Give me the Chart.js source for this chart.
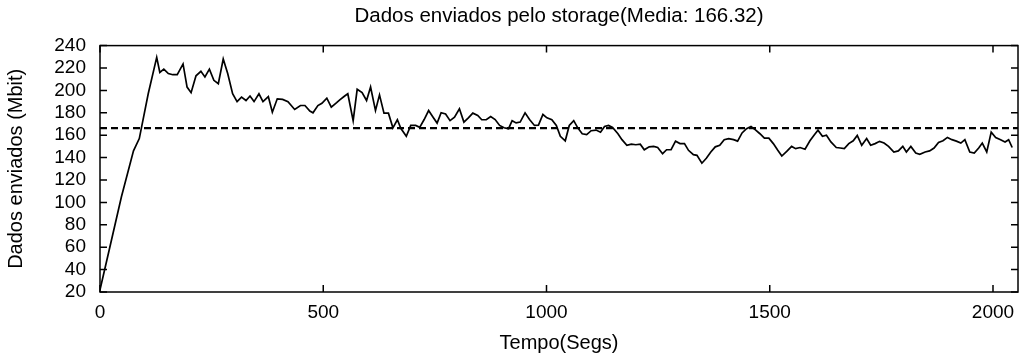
<!DOCTYPE html>
<html lang="pt">
<head>
    <meta charset="UTF-8">
    <title>Dados enviados pelo storage</title>
    <script src="https://cdn.jsdelivr.net/npm/chart.js@4.4.0/dist/chart.umd.min.js"></script>
    <style>
        body { margin: 0; background: #fff; }
    </style>
</head>
<body>
    <canvas id="chart" width="1022" height="360"></canvas>

    <script>
        // tempo (segundos) e dados enviados (Mbit)
        const tempo = [0, 22, 48, 75, 88, 108, 127, 134, 143, 153, 163, 173, 186, 195, 204, 215, 226, 235, 245, 255,
            265, 276, 286, 297, 307, 317, 327, 336, 345, 356, 365, 377, 386, 397, 409, 421, 436, 449, 459, 470,
            477, 488, 497, 508, 518, 530, 537, 548, 555, 567, 576, 587, 597, 606, 617, 626, 636, 646, 656, 666,
            674, 686, 696, 707, 716, 726, 736, 746, 755, 764, 774, 784, 794, 805, 815, 825, 835, 846, 855, 865,
            875, 885, 895, 905, 915, 923, 932, 941, 952, 962, 973, 982, 992, 1001, 1012, 1022, 1031, 1042, 1051, 1061,
            1070, 1080, 1090, 1100, 1111, 1121, 1130, 1139, 1148, 1160, 1169, 1180, 1190, 1200, 1210, 1219, 1230, 1240, 1249, 1260,
            1269, 1279, 1289, 1299, 1309, 1318, 1329, 1337, 1348, 1358, 1368, 1378, 1388, 1398, 1408, 1419, 1428, 1438, 1448, 1458,
            1468, 1478, 1488, 1498, 1508, 1518, 1527, 1538, 1549, 1558, 1568, 1579, 1590, 1600, 1608, 1618, 1627, 1637, 1649, 1658,
            1667, 1677, 1687, 1696, 1706, 1717, 1726, 1736, 1746, 1756, 1766, 1778, 1788, 1798, 1806, 1816, 1827, 1836, 1848, 1858,
            1868, 1878, 1888, 1898, 1908, 1918, 1928, 1937, 1948, 1958, 1968, 1976, 1986, 1996, 2006, 2017, 2027, 2035, 2043];
        const dados = [22, 60, 105, 146, 157, 197, 229.5, 216, 219, 215, 214, 214, 223.6, 203, 198, 213, 217, 212, 219, 209,
            206, 228, 215, 197, 190, 194, 191, 195, 190, 197, 190, 194.5, 180.5, 192.5, 192, 190, 183, 186.5, 186.5, 181.5,
            180, 186.5, 188.5, 193, 185, 189, 191.5, 195, 197, 173, 201, 198, 191, 203, 182, 196, 179.7, 179.7, 166.6, 173.8,
            166, 159, 168.7, 168.7, 167, 174, 182, 176, 170.8, 180, 179, 173, 176, 183.6, 171.7, 175.5, 179.7, 177.6, 173.8, 173.8,
            176.7, 174, 168.7, 166.6, 165.8, 173, 171, 171.7, 180, 174, 168.7, 169, 178.5, 175.5, 173.8, 168.7, 159, 155, 168.7, 173,
            166.6, 161.3, 160.5, 164, 164.6, 162.7, 167.8, 168.7, 167, 161.3, 156, 151, 152, 151.5, 152, 147, 149.6, 150, 149, 143.5,
            147, 147, 154.7, 152.5, 152.5, 146.5, 142.6, 142, 135, 139.4, 145, 149.6, 151, 156, 157, 156, 154.7, 162, 165.8, 167.8,
            164.8, 161.3, 157.4, 157.4, 152.5, 146.5, 141.4, 145.5, 150, 148, 149, 147.5, 155, 160.5, 164.5, 159, 160, 154, 149, 148.6,
            148, 152.5, 155, 159.8, 151, 157, 151, 152.5, 154.5, 153, 150, 145, 146, 150, 145, 150, 144, 143, 145, 146,
            148.5, 153.5, 155, 158, 156, 154.7, 153, 156, 145, 144, 148.6, 153, 145, 162.7, 158, 156, 154, 156, 149];

        const media = 166.32;
        const xMax = 2056;
        const xTicks = [0, 500, 1000, 1500, 2000];
        const yTicks = [20, 40, 60, 80, 100, 120, 140, 160, 180, 200, 220, 240];

        const fonte = 'Liberation Sans, Arial, Helvetica, sans-serif';

        // caixa do grafico com marcas de escala para dentro (estilo gnuplot)
        const moldura = {
            id: 'moldura',
            afterDatasetsDraw(chart) {
                const ctx = chart.ctx;
                const a = chart.chartArea;
                const sx = chart.scales.x;
                const sy = chart.scales.y;
                const tam = 7;
                ctx.save();
                ctx.strokeStyle = '#000';
                ctx.lineWidth = 1.5;
                ctx.beginPath();
                xTicks.forEach(v => {
                    const px = sx.getPixelForValue(v);
                    ctx.moveTo(px, a.bottom);
                    ctx.lineTo(px, a.bottom - tam);
                    ctx.moveTo(px, a.top);
                    ctx.lineTo(px, a.top + tam);
                });
                yTicks.forEach(v => {
                    const py = sy.getPixelForValue(v);
                    ctx.moveTo(a.left, py);
                    ctx.lineTo(a.left + tam, py);
                    ctx.moveTo(a.right, py);
                    ctx.lineTo(a.right - tam, py);
                });
                ctx.stroke();
                ctx.strokeRect(a.left, a.top, a.right - a.left, a.bottom - a.top);
                ctx.restore();
            }
        };

        const pontos = tempo.map((t, i) => ({ x: t, y: dados[i] }));

        const ctx = document.getElementById('chart').getContext('2d');
        const myChart = new Chart(ctx, {
            type: 'line',
            data: {
                datasets: [{
                    label: 'Dados enviados',
                    data: pontos,
                    borderColor: '#000',
                    borderWidth: 1.7,
                    pointRadius: 0,
                    tension: 0,
                    fill: false
                },
                {
                    label: 'Media',
                    data: [{ x: 0, y: media }, { x: xMax, y: media }],
                    borderColor: '#000',
                    borderWidth: 2.2,
                    borderDash: [7, 4],
                    pointRadius: 0,
                    fill: false
                }]
            },
            options: {
                responsive: false,
                animation: false,
                layout: { padding: { left: 0, right: 4, top: 0, bottom: 0 } },
                plugins: {
                    legend: { display: false },
                    tooltip: { enabled: false },
                    title: {
                        display: true,
                        text: 'Dados enviados pelo storage(Media: ' + media + ')',
                        fullSize: false,
                        color: '#000',
                        font: { family: fonte, size: 20.5, weight: 'normal' },
                        padding: { top: 4, bottom: 17 }
                    }
                },
                scales: {
                    x: {
                        type: 'linear',
                        min: 0,
                        max: xMax,
                        afterFit: s => { s.height = 68; },
                        afterBuildTicks: s => { s.ticks = xTicks.map(v => ({ value: v })); },
                        grid: { display: false },
                        border: { display: false },
                        ticks: {
                            color: '#000',
                            padding: 1,
                            maxRotation: 0,
                            autoSkip: false,
                            callback: v => String(v),
                            font: { family: fonte, size: 19 }
                        },
                        title: {
                            display: true,
                            text: 'Tempo(Segs)',
                            color: '#000',
                            font: { family: fonte, size: 20 },
                            padding: { top: 0, bottom: 5 }
                        }
                    },
                    y: {
                        min: 20,
                        max: 240,
                        afterFit: s => { s.width = 100; },
                        afterBuildTicks: s => { s.ticks = yTicks.map(v => ({ value: v })); },
                        grid: { display: false },
                        border: { display: false },
                        ticks: {
                            color: '#000',
                            padding: 6,
                            autoSkip: false,
                            callback: v => String(v),
                            font: { family: fonte, size: 19 }
                        },
                        title: {
                            display: true,
                            text: 'Dados enviados (Mbit)',
                            color: '#000',
                            font: { family: fonte, size: 20 },
                            padding: { top: 4, bottom: 0 }
                        }
                    }
                }
            },
            plugins: [moldura]
        });
    </script>
</body>
</html>
